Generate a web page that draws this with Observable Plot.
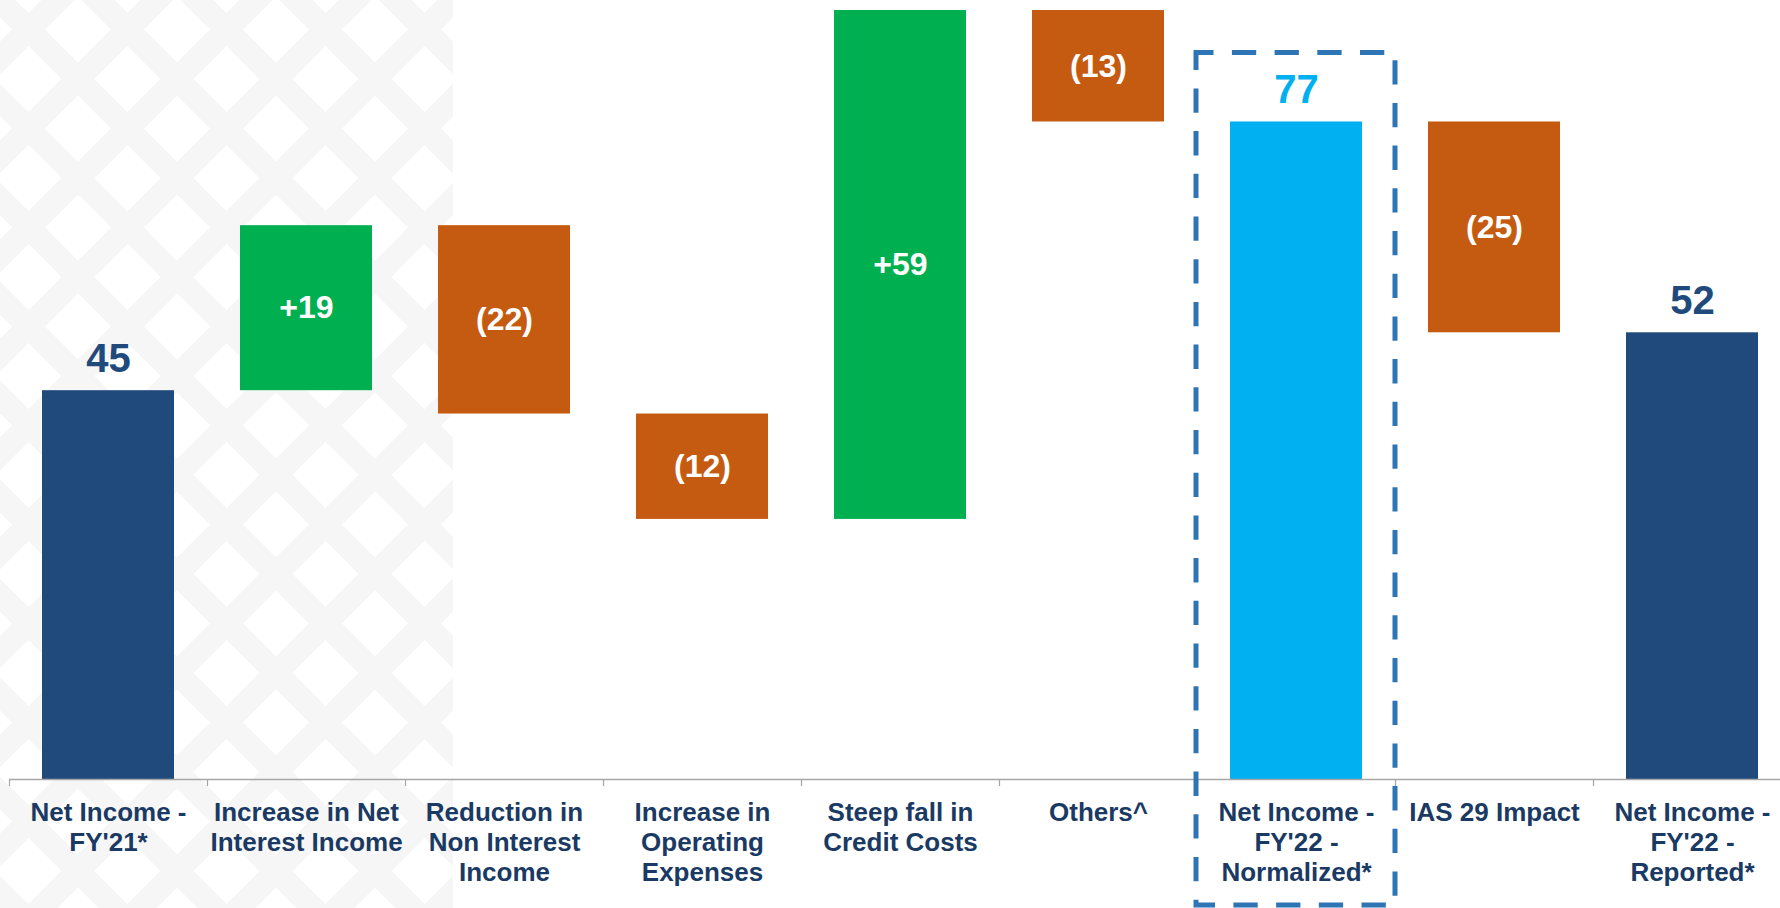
<!DOCTYPE html>
<html><head><meta charset="utf-8">
<script src="https://cdn.jsdelivr.net/npm/d3@7"></script>
<script src="https://cdn.jsdelivr.net/npm/@observablehq/plot@0.6"></script>
<style>
html,body{margin:0;padding:0;background:#fff;}
#wrap{position:relative;width:1780px;height:908px;overflow:hidden;}
#bg{position:absolute;left:0;top:0;width:453px;height:908px;
background-image: repeating-linear-gradient(45deg, #f6f6f6 0 23px, rgba(255,255,255,0) 23px 70px), repeating-linear-gradient(-45deg, #f6f6f6 0 23px, rgba(255,255,255,0) 23px 70px);}
#chart{position:absolute;left:0;top:0;}
</style></head>
<body><div id="wrap"><div id="bg"></div><div id="chart"></div></div>
<script>
// Categories (axis labels, with their line breaks)
const categories = [
  "Net Income -\nFY'21*",
  "Increase in Net\nInterest Income",
  "Reduction in\nNon Interest\nIncome",
  "Increase in\nOperating\nExpenses",
  "Steep fall in\nCredit Costs",
  "Others^",
  "Net Income -\nFY'22 -\nNormalized*",
  "IAS 29 Impact",
  "Net Income -\nFY'22 -\nReported*"
];
// Step values (totals are absolute levels)
const values = [45.0, 19.1, -21.8, -12.2, 58.9, -12.9, 76.1, -24.4, 51.7];
const kinds = ["total", "up", "down", "down", "up", "down", "subtotal", "down", "total"];
// Printed labels
const valueLabels = ["45", "+19", "(22)", "(12)", "+59", "(13)", "77", "(25)", "52"];
const kindColors = {total: "#214A7C", subtotal: "#00B0F0", up: "#00B050", down: "#C55A11"};

let running = 0;
const data = categories.map((category, i) => {
  const kind = kinds[i];
  let start, end;
  if (kind === "total" || kind === "subtotal") { start = 0; end = values[i]; }
  else { start = running; end = running + values[i]; }
  running = end;
  return {i, category, kind, start, end, label: valueLabels[i]};
});
const isLevel = d => d.kind === "total" || d.kind === "subtotal";
const boundaries = d3.range(categories.length + 1);

const chart = Plot.plot({
  width: 1780,
  height: 908,
  marginTop: 0,
  marginBottom: 129,
  marginLeft: 0,
  marginRight: 0,
  x: {domain: [0, categories.length], range: [9, 9 + 198 * categories.length]},
  y: {domain: [0, 90.16], axis: null},
  color: {type: "identity"},
  style: {background: "none", overflow: "visible", fontFamily: "'Liberation Sans', Arial, sans-serif"},
  marks: [
    Plot.rect(data, {
      x1: d => d.i, x2: d => d.i + 1, y1: "start", y2: "end",
      fill: d => kindColors[d.kind], insetLeft: 33, insetRight: 33
    }),
    Plot.ruleY([0], {x1: 0, x2: categories.length, stroke: "#a6a6a6", strokeWidth: 1.5}),
    Plot.axisX(boundaries, {anchor: "bottom", tickSize: 7, tickFormat: () => "", stroke: "#a6a6a6", strokeWidth: 1.2}),
    Plot.text(data, {
      x: d => d.i + 0.5, y: 0, text: "category", lineAnchor: "top", dy: 20,
      fontSize: 26, fontWeight: "bold", fill: "#1a3a64", lineHeight: 1.154
    }),
    Plot.text(data.filter(d => !isLevel(d)), {
      x: d => d.i + 0.5, y: d => (d.start + d.end) / 2, text: "label",
      fontSize: 32, fontWeight: "bold", fill: "white"
    }),
    Plot.text(data.filter(isLevel), {
      x: d => d.i + 0.5, y: "end", text: "label", lineAnchor: "bottom", dy: -19,
      fontSize: 40, fontWeight: "bold", fill: d => kindColors[d.kind]
    }),
    Plot.rect(data.filter(d => d.kind === "subtotal"), {
      x1: d => d.i, x2: d => d.i + 1, y1: 0, y2: "end",
      fill: "none", stroke: "#2E75B6", strokeWidth: 5,
      strokeDasharray: "24.3 18.4", strokeDashoffset: 6.8,
      insetTop: -69, insetBottom: -126, insetLeft: -1, insetRight: 0
    })
  ]
});
document.getElementById("chart").appendChild(chart);
</script>
</body></html>
